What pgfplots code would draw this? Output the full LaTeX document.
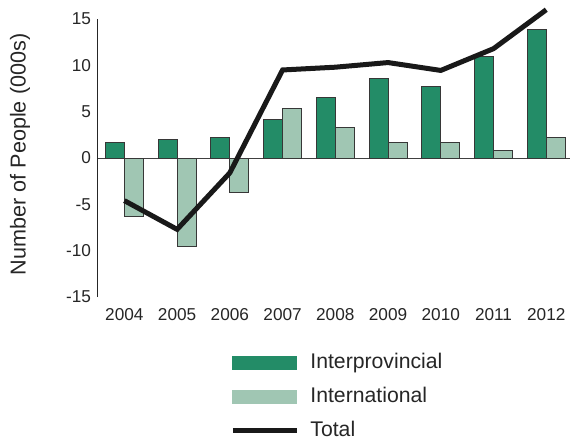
\documentclass[border=0pt]{standalone}
\usepackage{fontspec}
\setmainfont{Liberation Sans}
\usepackage{pgfplots}
\pgfplotsset{compat=1.18}
\definecolor{inter}{RGB}{35,140,103}
\definecolor{intl}{RGB}{160,198,179}
\definecolor{edge}{RGB}{55,55,55}
\begin{document}
\begin{tikzpicture}
\begin{axis}[
 name=ax,
 scale only axis, width=236pt, height=139pt,
 xmin=-0.5, xmax=8.45, ymin=-15, ymax=15,
 axis lines*=left,
 x axis line style={draw=none},
 y axis line style={line width=0.5pt, color=black!85},
 xtick={0,...,8}, xticklabels={2004,2005,2006,2007,2008,2009,2010,2011,2012},
 ytick={-15,-10,...,15},
 major tick length=0pt,
 tick label style={font=\fontsize{8.6}{10}\selectfont, text=black!85},
 xticklabel style={yshift=-2pt},
 /pgf/number format/assume math mode=true,
 ylabel={Number of People (000s)},
 ylabel style={font=\fontsize{10.8}{12}\selectfont, text=black!85, at={(axis description cs:-0.165,0.513)}, anchor=center},
 legend style={at={(rel axis cs:0.267,-0.182)}, anchor=north west, draw=none, fill=none,
   font=\fontsize{10.6}{12}\selectfont, text=black!85, row sep=6.6pt,
   nodes={inner sep=0pt, text height=8pt, text depth=2.5pt, anchor=west},
   /tikz/every odd column/.style={column sep=5.5pt}},
 legend cell align=left,
 clip=false,
]
\addplot[forget plot, line width=0.5pt, color=black!75] coordinates {(-0.5,0) (8.45,0)};
\addplot[ybar, bar width=9.5pt, bar shift=-4.75pt, fill=inter, draw=edge, line width=0.5pt,
  legend image code/.code={\fill[inter] (0pt,-3.25pt) rectangle (32pt,3.25pt);}]
  coordinates {(0,1.7) (1,2.0) (2,2.2) (3,4.2) (4,6.5) (5,8.6) (6,7.75) (7,11.0) (8,13.9)};
\addlegendentry{Interprovincial}
\addplot[ybar, bar width=9.5pt, bar shift=4.75pt, fill=intl, draw=edge, line width=0.5pt,
  legend image code/.code={\fill[intl] (0pt,-3.25pt) rectangle (32pt,3.25pt);}]
  coordinates {(0,-6.3) (1,-9.6) (2,-3.7) (3,5.3) (4,3.3) (5,1.7) (6,1.7) (7,0.8) (8,2.2)};
\addlegendentry{International}
\addplot[line width=2.5pt, color=black!90,
  legend image code/.code={\draw[line width=2.5pt, black!90] (0pt,0pt) -- (32pt,0pt);}]
  coordinates {(0,-4.6) (1,-7.7) (2,-1.6) (3,9.5) (4,9.8) (5,10.3) (6,9.45) (7,11.8) (8,16.0)};
\addlegendentry{Total}
\end{axis}
\pgfresetboundingbox
\path ([shift={(-49pt,-72pt)}]ax.south west) rectangle ([shift={(0pt,9.5pt)}]ax.north east);
\end{tikzpicture}
\end{document}
